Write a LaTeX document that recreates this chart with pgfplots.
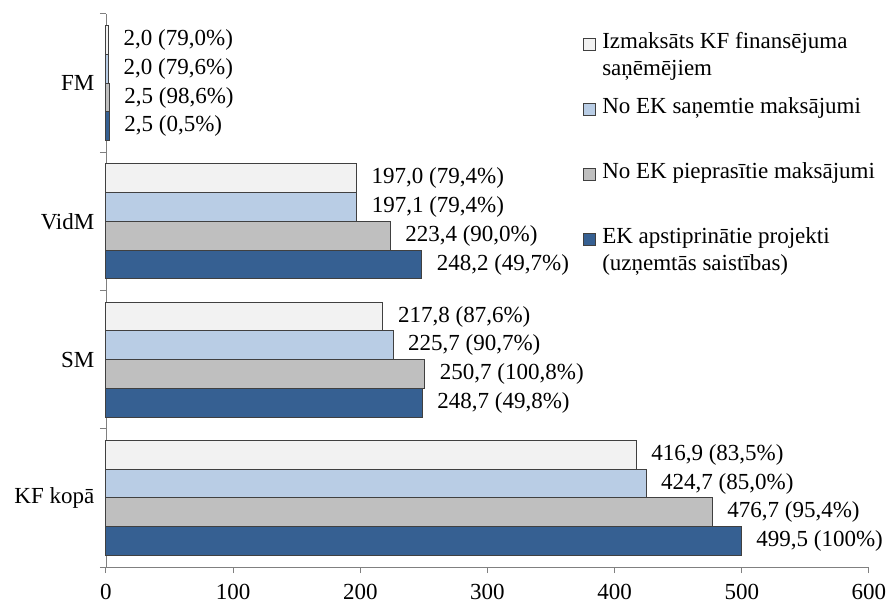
\documentclass[border=0pt]{standalone}
\usepackage{fontspec}
\setmainfont{Liberation Serif}
\usepackage{pgfplots}
\pgfplotsset{compat=1.18}
\usepackage{pgfplotstable}

\definecolor{cLG}{HTML}{F2F2F2}
\definecolor{cLB}{HTML}{B9CDE5}
\definecolor{cMG}{HTML}{BFBFBF}
\definecolor{cDB}{HTML}{366092}

% y: 0 = KF kopa, 1 = SM, 2 = VidM, 3 = FM
\pgfplotstableread[col sep=semicolon]{
x;y;lab
499.5;0;499,5 (100\%)
248.7;1;248,7 (49,8\%)
248.2;2;248,2 (49,7\%)
2.5;3;2,5 (0,5\%)
}\tA
\pgfplotstableread[col sep=semicolon]{
x;y;lab
476.7;0;476,7 (95,4\%)
250.7;1;250,7 (100,8\%)
223.4;2;223,4 (90,0\%)
2.5;3;2,5 (98,6\%)
}\tB
\pgfplotstableread[col sep=semicolon]{
x;y;lab
424.7;0;424,7 (85,0\%)
225.7;1;225,7 (90,7\%)
197.1;2;197,1 (79,4\%)
2.0;3;2,0 (79,6\%)
}\tC
\pgfplotstableread[col sep=semicolon]{
x;y;lab
416.9;0;416,9 (83,5\%)
217.8;1;217,8 (87,6\%)
197.0;2;197,0 (79,4\%)
2.0;3;2,0 (79,0\%)
}\tD

\pgfplotsset{
  mybar/.style={fill=#1, draw=black!75, line width=0.5pt,
    legend image code/.code={\draw[fill=#1, draw=black!75, line width=0.5pt] (0pt,0pt) rectangle (6pt,6pt);}},
}

\begin{document}
\begin{tikzpicture}
\begin{axis}[
  scale only axis, width=381.5pt, height=276.5pt,
  xbar, bar width=0.208,
  xmin=0, xmax=600, ymin=-0.5, ymax=3.5,
  enlargelimits=false,
  xtick={0,100,...,600},
  xticklabel style={yshift=-2pt},
  ytick={-0.5,0.5,1.5,2.5,3.5}, yticklabels={},
  extra y ticks={0,1,2,3},
  extra y tick labels={KF kopā,SM,VidM,FM},
  extra y tick style={major tick length=0pt, yticklabel style={xshift=-2.3pt}},
  axis lines*=left,
  axis line style={draw=black!50},
  tick align=outside, major tick length=3pt,
  tick style={draw=black!50, line width=0.5pt},
  clip=false,
  font=\fontsize{11.5}{13.5}\selectfont,
  /pgf/number format/assume math mode=true,
  nodes near coords, point meta=explicit symbolic,
  nodes near coords align=horizontal,
  every node near coord/.append style={anchor=west, xshift=4pt, text=black, font=\fontsize{11.5}{13.5}\selectfont},
  reverse legend,
  legend cell align=left,
  legend style={draw=none, fill=none, inner sep=0pt, at={(0.625,0.958)}, anchor=north west,
    row sep=25.5pt, column sep=3pt, nodes={inner sep=0pt}, font=\fontsize{11.5}{13.5}\selectfont},
]
\addplot[mybar=cDB, bar shift=-0.312] table[x=x, y=y, meta=lab] {\tA};
\addlegendentry{\smash{\begin{tabular}[t]{@{}l@{}}EK apstiprinātie projekti\\(uzņemtās saistības)\end{tabular}}}
\addplot[mybar=cMG, bar shift=-0.104] table[x=x, y=y, meta=lab] {\tB};
\addlegendentry{\smash{\begin{tabular}[t]{@{}l@{}}No EK pieprasītie maksājumi\end{tabular}}}
\addplot[mybar=cLB, bar shift=0.104] table[x=x, y=y, meta=lab] {\tC};
\addlegendentry{\smash{\begin{tabular}[t]{@{}l@{}}No EK saņemtie maksājumi\end{tabular}}}
\addplot[mybar=cLG, bar shift=0.312] table[x=x, y=y, meta=lab] {\tD};
\addlegendentry{\smash{\begin{tabular}[t]{@{}l@{}}Izmaksāts KF finansējuma\\saņēmējiem\end{tabular}}}
\end{axis}
\pgfresetboundingbox
\path[use as bounding box] (-53pt,-18.5pt) rectangle (390.5pt,283.5pt);
\end{tikzpicture}
\end{document}
